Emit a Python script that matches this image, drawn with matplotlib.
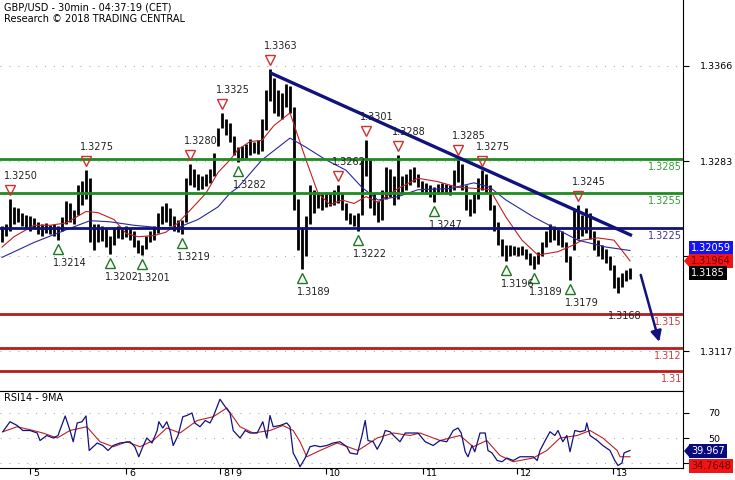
import numpy as np
import matplotlib.pyplot as plt
from matplotlib.transforms import ScaledTranslation
from matplotlib.patches import Polygon

# hourly bars (high / low)
highs = [1.3226, 1.3228, 1.3250, 1.3243, 1.3242, 1.3238, 1.3236, 1.3235, 1.3233, 1.3230,
         1.3228, 1.3229, 1.3227, 1.3228, 1.3226, 1.3234, 1.3248, 1.3246, 1.3240, 1.3262,
         1.3266, 1.3275, 1.3268, 1.3228, 1.3228, 1.3226, 1.3225, 1.3218, 1.3225, 1.3226,
         1.3224, 1.3226, 1.3225, 1.3222, 1.3214, 1.3210, 1.3218, 1.3222, 1.3226, 1.3238,
         1.3244, 1.3246, 1.3242, 1.3235, 1.3232, 1.3232, 1.3268, 1.3280, 1.3276, 1.3272,
         1.3270, 1.3272, 1.3276, 1.3290, 1.3312, 1.3325, 1.3320, 1.3316, 1.3305, 1.3295,
         1.3296, 1.3298, 1.3302, 1.3300, 1.3301, 1.3320, 1.3345, 1.3363, 1.3355, 1.3345,
         1.3342, 1.3350, 1.3348, 1.3330, 1.3250, 1.3225, 1.3235, 1.3262, 1.3258, 1.3256,
         1.3254, 1.3256, 1.3255, 1.3258, 1.3262, 1.3255, 1.3246, 1.3238, 1.3236, 1.3238,
         1.3284, 1.3301, 1.3285, 1.3255, 1.3248, 1.3258, 1.3278, 1.3276, 1.3270, 1.3288,
         1.3270, 1.3272, 1.3276, 1.3278, 1.3272, 1.3266, 1.3264, 1.3262, 1.3260, 1.3263,
         1.3264, 1.3263, 1.3262, 1.3275, 1.3285, 1.3280, 1.3262, 1.3250, 1.3255, 1.3268,
         1.3275, 1.3272, 1.3262, 1.3245, 1.3230, 1.3215, 1.3210, 1.3210, 1.3209, 1.3208,
         1.3209, 1.3206, 1.3203, 1.3200, 1.3204, 1.3212, 1.3222, 1.3228, 1.3226, 1.3224,
         1.3222, 1.3212, 1.3200, 1.3240, 1.3245, 1.3236, 1.3242, 1.3238, 1.3222, 1.3214,
         1.3210, 1.3206, 1.3200, 1.3192, 1.3182, 1.3185, 1.3188, 1.3190]
lows = [1.3212, 1.3218, 1.3222, 1.3228, 1.3230, 1.3226, 1.3225, 1.3222, 1.3224, 1.3219,
        1.3218, 1.3220, 1.3219, 1.3218, 1.3214, 1.3222, 1.3228, 1.3230, 1.3228, 1.3236,
        1.3245, 1.3250, 1.3212, 1.3205, 1.3212, 1.3213, 1.3208, 1.3202, 1.3210, 1.3216,
        1.3215, 1.3217, 1.3214, 1.3208, 1.3203, 1.3201, 1.3206, 1.3212, 1.3214, 1.3220,
        1.3228, 1.3230, 1.3226, 1.3222, 1.3221, 1.3219, 1.3230, 1.3262, 1.3260, 1.3258,
        1.3259, 1.3261, 1.3264, 1.3270, 1.3296, 1.3312, 1.3306, 1.3300, 1.3288, 1.3282,
        1.3284, 1.3286, 1.3288, 1.3290, 1.3289, 1.3292, 1.3310, 1.3335, 1.3325, 1.3322,
        1.3320, 1.3330, 1.3325, 1.3240, 1.3205, 1.3189, 1.3200, 1.3228, 1.3238, 1.3242,
        1.3240, 1.3243, 1.3244, 1.3245, 1.3246, 1.3240, 1.3232, 1.3228, 1.3226, 1.3222,
        1.3236, 1.3270, 1.3242, 1.3236, 1.3230, 1.3232, 1.3250, 1.3252, 1.3245, 1.3250,
        1.3255, 1.3258, 1.3262, 1.3265, 1.3260, 1.3256, 1.3254, 1.3252, 1.3247, 1.3254,
        1.3255, 1.3254, 1.3253, 1.3258, 1.3265, 1.3258, 1.3240, 1.3235, 1.3238, 1.3250,
        1.3258, 1.3255, 1.3240, 1.3222, 1.3210, 1.3200, 1.3196, 1.3200, 1.3201, 1.3200,
        1.3201, 1.3198, 1.3192, 1.3189, 1.3193, 1.3200, 1.3208, 1.3212, 1.3214, 1.3210,
        1.3208, 1.3195, 1.3179, 1.3205, 1.3215, 1.3218, 1.3220, 1.3215, 1.3205, 1.3200,
        1.3198, 1.3194, 1.3188, 1.3172, 1.3168, 1.3173, 1.3178, 1.3180]

red_ma_x = [0, 3, 8, 12, 16, 21, 24, 28, 31, 34, 38, 41, 44, 47, 51, 54, 57, 59, 62, 65,
            68, 72, 76, 79, 82, 85, 88, 91, 94, 96, 99, 104, 109, 114, 119, 122, 126, 130,
            134, 139, 143, 145, 149, 153, 157]
red_ma = [1.3208, 1.3217, 1.3227, 1.3227, 1.3229, 1.3239, 1.3238, 1.3232, 1.3220, 1.3217,
          1.3218, 1.3221, 1.3229, 1.3240, 1.3255, 1.3273, 1.3284, 1.3293, 1.3300, 1.3301,
          1.3314, 1.3325, 1.3284, 1.3255, 1.3245, 1.3249, 1.3246, 1.3252, 1.3247, 1.3252,
          1.3259, 1.3268, 1.3265, 1.3260, 1.3259, 1.3258, 1.3234, 1.3214, 1.3201, 1.3204,
          1.3210, 1.3214, 1.3216, 1.3214, 1.3196]
blue_ma_x = [0, 8, 16, 22, 27, 33, 39, 44, 49, 54, 57, 59, 65, 72, 76, 81, 86, 90, 94, 99,
             104, 112, 118, 122, 126, 133, 139, 144, 151, 157]
blue_ma = [1.3199, 1.3212, 1.3223, 1.3231, 1.3230, 1.3227, 1.3225, 1.3225, 1.3232, 1.3243,
           1.3255, 1.3260, 1.3284, 1.3303, 1.3295, 1.3284, 1.3275, 1.3260, 1.3249, 1.3252,
           1.3258, 1.3259, 1.3264, 1.3260, 1.3249, 1.3234, 1.3223, 1.3214, 1.3208, 1.3205]

rsi_x = [0.2, 2, 3.8, 5.2, 7, 8.8, 9.5, 11.2, 12.8, 14, 15.8, 17, 17.8, 18.8, 20, 21, 21.8,
         23.8, 25.2, 26.5, 27.8, 29.5, 32, 33.2, 34.2, 35.2, 36.2, 37.5, 38.8, 39.2, 40.2,
         41.2, 42, 42.8, 44, 45.2, 46.2, 47.5, 48.2, 49.5, 50.8, 52, 52.8, 54.5, 55.8, 57,
         57.8, 59.5, 60.8, 62, 63.8, 65.2, 66.2, 67, 67.8, 69.5, 71.2, 72, 72.8, 73.8, 74.5,
         75.8, 77, 78.2, 79.5, 81.2, 82.8, 84.5, 86.2, 87, 88.8, 90, 90.8, 91.5, 92.8, 93.8,
         95, 95.8, 97, 98.2, 99.5, 100.8, 102.5, 104, 105.8, 107.8, 109.5, 111.2, 112.8, 114,
         114.8, 115.8, 116.5, 117.5, 118.2, 119.5, 120.8, 121.5, 122.5, 123.8, 125, 126.2,
         127.8, 129.5, 131.2, 132.8, 133.8, 134.5, 135.8, 137, 138.2, 139, 140.2, 141.2, 142,
         143.2, 144.5, 145.8, 146.2, 147, 148.8, 150.2, 152, 153.2, 154, 155, 155.5, 156.2, 157]
rsi = [55, 63, 60, 56, 56, 54, 48, 52, 50, 52, 67.6, 56, 47, 62, 63, 67.6, 40,
       46, 44, 40, 44, 46, 47, 43, 35, 43, 50, 46, 56, 63, 58,
       63, 56, 44, 52, 67, 68, 70, 62, 59, 64, 62, 67, 81, 75, 70,
       56, 50, 56, 54, 54, 63, 50, 68, 59, 60, 62, 59, 38, 32, 27,
       34, 43, 44, 43, 44, 46, 47, 43, 38, 37, 52, 64, 48, 47, 41,
       48, 56, 55, 51, 47, 54, 54, 54, 47, 44, 48, 47, 56, 58,
       54, 39, 35, 44, 39, 54, 54, 40, 38, 32, 31, 34,
       32, 35, 35, 35, 32, 40, 48, 55, 52, 56, 47, 52, 39,
       56, 55, 56, 62, 52, 48, 44, 40, 32, 28, 30, 38, 39, 40]
rsi_ma_x = [0.2, 3.8, 7.8, 10.2, 13.8, 17, 21.2, 24.5, 27.8, 31.2, 34.5, 37.8, 41.2, 44.5,
            48.8, 52.8, 56.2, 59.5, 62.8, 67, 70.2, 72.8, 74.5, 76.2, 79.5, 83.8, 89, 93.8,
            97.8, 102, 104.5, 109.5, 114.5, 117.8, 121.2, 124.5, 127.8, 132.8, 136.2, 139.5,
            143.8, 147, 150.2, 153.8, 154.5, 157]
rsi_ma = [55, 59, 56, 54, 50, 56, 59, 47, 43, 47, 43, 48, 58, 54,
          64, 67, 74, 59, 54, 56, 60, 56, 47, 35, 40, 46, 40, 50,
          54, 52, 54, 48, 52, 43, 48, 36, 31, 34, 40, 50,
          52, 56, 50, 40, 35, 35]

day_pos = [7, 31, 54.5, 57.5, 81, 105.25, 128.75, 152.75]
day_labels = ['5', '6', '8', '9', '10', '11', '12', '13']

levels = [1.3285, 1.3255, 1.3225, 1.315, 1.312, 1.31]
level_labels = ['1.3285', '1.3255', '1.3225', '1.315', '1.312', '1.31']
level_colors = ['#1e8c1e', '#1e8c1e', '#12127e', '#b81c1c', '#b81c1c', '#b81c1c']
level_text_colors = ['#3a9a3a', '#3a9a3a', '#3a3aa0', '#c84040', '#c84040', '#c84040']

peak_idx = [2, 21, 47, 55, 67, 84, 91, 99, 114, 120, 144]
peak_val = [1.3250, 1.3275, 1.3280, 1.3325, 1.3363, 1.3262, 1.3301, 1.3288, 1.3285, 1.3275, 1.3245]
trough_idx = [14, 27, 35, 45, 59, 75, 89, 108, 126, 133, 142]
trough_val = [1.3214, 1.3202, 1.3201, 1.3219, 1.3282, 1.3189, 1.3222, 1.3247, 1.3196, 1.3189, 1.3179]
last_low_idx = 154
last_low_val = 1.3168

trend_x = [67, 157.5]
trend_y = [1.3360, 1.3218]
arrow_x = [159.5, 164.5]
arrow_y = [1.3186, 1.3123]

price_ticks = [1.3366, 1.3283, 1.3200, 1.3117]
price_tick_labels = ['1.3366', '1.3283', '', '1.3117']
rsi_ticks = [70, 50, 30]
rsi_tick_labels = ['70', '50', '']

plt.rcParams['font.family'] = 'DejaVu Sans'
navy = '#12127e'
fig = plt.figure(figsize=(7.35, 4.8), dpi=100)
W, H = 735, 480
ax = fig.add_axes([0, 1 - 391 / H, 683 / W, 391 / H])
ax2 = fig.add_axes([0, 12 / H, 683 / W, 77 / H], sharex=ax)

x = np.arange(len(highs))
ax.vlines(x, lows, highs, color='black', lw=2.0, zorder=2)
ax.plot(red_ma_x, red_ma, color='#c02020', lw=0.8, zorder=3)
ax.plot(blue_ma_x, blue_ma, color='#2828a0', lw=0.8, zorder=3)

for lv, lb, c, tc in zip(levels, level_labels, level_colors, level_text_colors):
    ax.axhline(lv, color=c, lw=2, zorder=4)
    ax.annotate(lb, xy=(1, lv), xycoords=('axes fraction', 'data'), xytext=(-1, -3),
                textcoords='offset pixels', ha='right', va='top', fontsize=7, color=tc)

ax.plot(trend_x, trend_y, color=navy, lw=2.4, zorder=5, solid_capstyle='butt')
ax.annotate('', xy=(arrow_x[1], arrow_y[1]), xytext=(arrow_x[0], arrow_y[0]),
            arrowprops=dict(arrowstyle='-|>', color=navy, lw=1.8, mutation_scale=16), zorder=5)

up = ax.transData + ScaledTranslation(0, 9 / 100, fig.dpi_scale_trans)
down = ax.transData + ScaledTranslation(0, -9 / 100, fig.dpi_scale_trans)
ax.plot(peak_idx, peak_val, 'v', transform=up, mfc='none', mec='#d03030', ms=7.5, mew=1, zorder=6)
ax.plot(trough_idx, trough_val, '^', transform=down, mfc='none', mec='#1e7a1e', ms=7.5, mew=1, zorder=6)
for i, v in zip(peak_idx, peak_val):
    ax.annotate('%.4f' % v, xy=(i, v), xytext=(-6, 23), textcoords='offset pixels',
                ha='left', va='center', fontsize=7, color='#222222', zorder=7)
for i, v in zip(trough_idx, trough_val):
    ax.annotate('%.4f' % v, xy=(i, v), xytext=(-5, -23), textcoords='offset pixels',
                ha='left', va='center', fontsize=7, color='#222222', zorder=7)
ax.annotate('%.4f' % last_low_val, xy=(last_low_idx, last_low_val), xytext=(-10, -23),
            textcoords='offset pixels', ha='left', va='center', fontsize=7, color='#222222', zorder=7)

ax.set_xlim(-0.5, 170.25)
ax.set_ylim(1.30825, 1.34234)
ax.yaxis.tick_right()
ax.set_yticks(price_ticks, price_tick_labels)
ax.tick_params(axis='y', direction='out', length=4, pad=8, labelsize=6.8)
ax.tick_params(axis='x', bottom=False, labelbottom=False)
for t in price_ticks:
    ax.axhline(t, color='#b0b0b0', lw=0.8, ls=(0, (1, 7)), zorder=1)
for s in ['top', 'left']:
    ax.spines[s].set_visible(False)

ax.text(4 / 683, 1 - 8 / 391, 'GBP/USD - 30min - 04:37:19 (CET)', transform=ax.transAxes,
        fontsize=7, va='center')
ax.text(4 / 683, 1 - 19 / 391, 'Research \u00a9 2018 TRADING CENTRAL', transform=ax.transAxes,
        fontsize=7, va='center')

# RSI panel
ax2.plot(rsi_x, rsi, color=navy, lw=0.9, zorder=3)
ax2.plot(rsi_ma_x, rsi_ma, color='#c02020', lw=0.8, zorder=2)
ax2.set_ylim(26, 87.6)
ax2.yaxis.tick_right()
ax2.set_yticks(rsi_ticks, rsi_tick_labels)
ax2.tick_params(axis='y', direction='out', length=4, pad=14, labelsize=6.8)
for t in rsi_ticks:
    ax2.axhline(t, color='#b0b0b0', lw=0.8, ls=(0, (1, 7)), zorder=1)
ax2.spines['left'].set_visible(False)
ax2.set_xticks(day_pos, day_labels)
ax2.tick_params(axis='x', direction='out', length=4.5, pad=-3.5, labelsize=6.8)
for lbl in ax2.get_xticklabels():
    lbl.set_horizontalalignment('left')
    lbl.set_transform(lbl.get_transform() + ScaledTranslation(3 / 100, 0, fig.dpi_scale_trans))
ax2.text(4 / 683, 1 - 7 / 77, 'RSI14 - 9MA', transform=ax2.transAxes, fontsize=7, va='center')

# value tags on the right
def tag(y, txt, fc, tc, pointer=False):
    fig.text(691 / W, 1 - y / H, txt, fontsize=7, color=tc, va='center', ha='left',
             bbox=dict(boxstyle='square,pad=0.2', fc=fc, ec='none'))
    if pointer:
        yy = 1 - y / H
        fig.add_artist(Polygon([[684 / W, yy], [690 / W, yy + 7 / H], [690 / W, yy - 7 / H]],
                               closed=True, fc=fc, ec='none', transform=fig.transFigure))

tag(248, '1.32059', '#1414f0', 'white')
tag(261, '1.31964', '#f01414', '#700000', pointer=True)
tag(273, '1.3185', 'black', 'white')
tag(451, '39.967', '#0a0a80', 'white', pointer=True)
tag(466, '34.7648', '#f01414', '#700000')

plt.savefig('out.png', dpi=100)
